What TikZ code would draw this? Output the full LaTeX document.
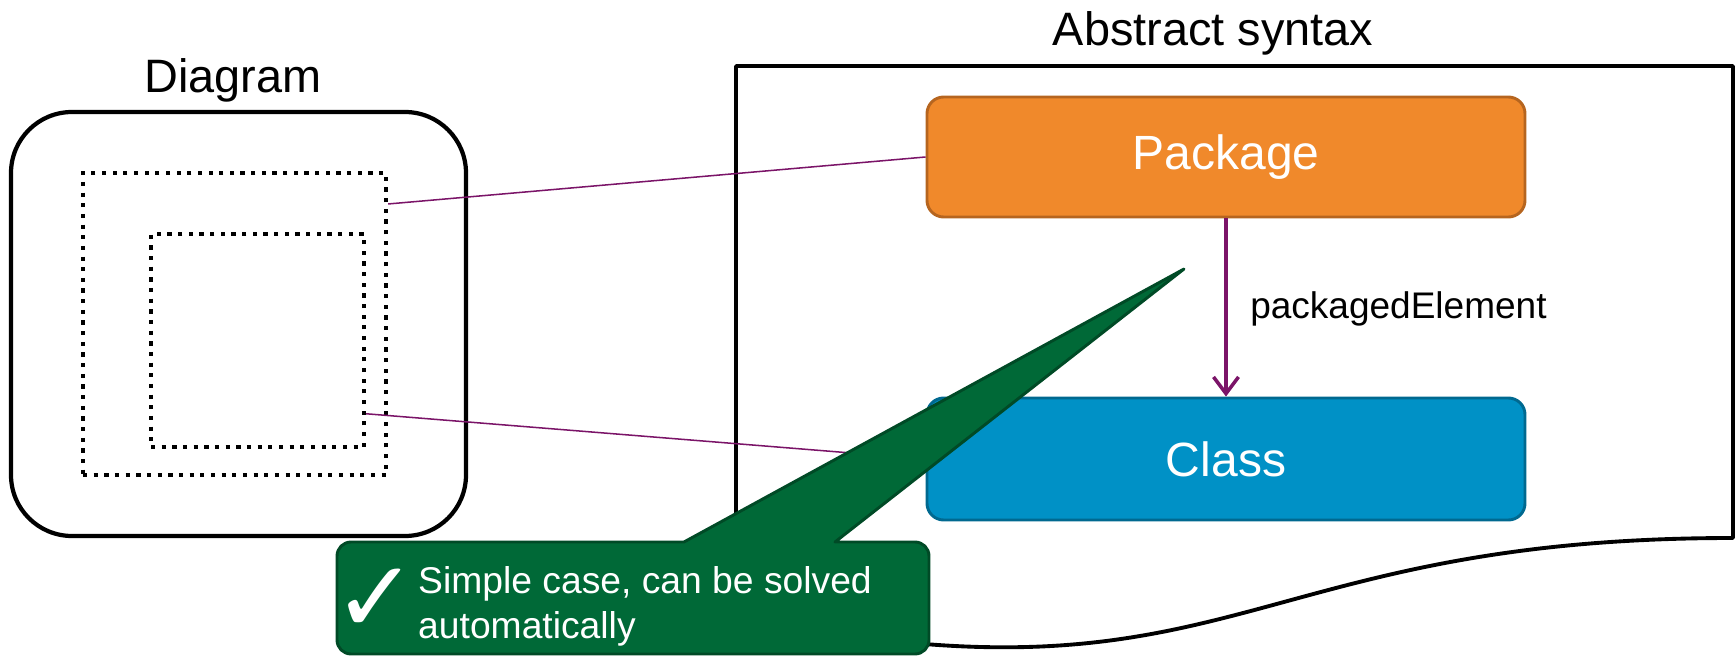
\documentclass[tikz,border=0pt]{standalone}
\usepackage{fontspec}
\setmainfont{Liberation Sans}
\newfontfamily\symfont{DejaVu Sans}
\usetikzlibrary{fit,arrows.meta}

\definecolor{pkgfill}{HTML}{F0892B}
\definecolor{pkgline}{HTML}{B6651F}
\definecolor{clsfill}{HTML}{0091C6}
\definecolor{clsline}{HTML}{006990}
\definecolor{notefill}{HTML}{006937}
\definecolor{noteline}{HTML}{004A26}
\definecolor{linkcol}{HTML}{7B1468}

\begin{document}
\begin{tikzpicture}[x=0.03cm, y=-0.03cm,
  title/.style={font=\fontsize{40}{48}\selectfont, inner sep=0},
  diagbox/.style={draw, line width=3.6pt, rounded corners=1.83cm, inner sep=0},
  dotbox/.style={draw, line width=3.6pt, dash pattern=on 3.6pt off 5.5pt, inner sep=0},
  umlbox/.style={line width=2.5pt, rounded corners=0.5cm, inner sep=0,
                 minimum width=17.94cm,
                 text=white, font=\fontsize{41}{49}\selectfont},
  pkgbox/.style={umlbox, draw=pkgline, fill=pkgfill, minimum height=3.6cm},
  clsbox/.style={umlbox, draw=clsline, fill=clsfill, minimum height=3.66cm},
  frameline/.style={draw, line width=3.3pt, line join=round},
  link/.style={draw=linkcol, line width=1.3pt},
  assoc/.style={draw=linkcol, line width=3pt,
                -{Straight Barb[length=0.5cm, width=0.75cm, line width=3pt]}},
  rolelabel/.style={font=\fontsize{31.6}{38}\selectfont, inner sep=0, anchor=west},
  callout/.style={fill=notefill, draw=noteline, line width=2.5pt, line join=round},
  notetext/.style={text=white, font=\fontsize{31.8}{38.4}\selectfont, align=left,
                   inner sep=0, anchor=west},
]
\useasboundingbox (0,0) rectangle (1735,657);

% concrete syntax side
\node[title] (diagtitle) at (233,80) {Diagram};
\node[diagbox, fit={(11,112) (466,536)}] (diagram) {};
\node[dotbox, fit={(83,173) (386,475)}] (outerdot) {};
\node[dotbox, fit={(151,234) (364,447)}] (innerdot) {};

% abstract syntax side: document shape with a wavy bottom edge
\node[title] (abstitle) at (1213,33) {Abstract syntax};
\draw[frameline] (736,66) -- (1733,66) -- (1733,538)
  .. controls (1234.5,538) and (1234.5,718) .. (736,616) -- cycle;

% model elements
\node[pkgbox] (package) at (1226,157) {Package};
\node[clsbox] (class) at (1226,459) {Class};

% links from the diagram elements to the model elements
\draw[link] (outerdot.38.6) -- (package.west);
\draw[link] (innerdot.-34.6) -- (class.west);

\draw[assoc] (package.south) -- (class.north);
\node[rolelabel] (role) at (1250,309) {packagedElement};

% callout
\draw[callout] (337,600) [rounded corners=0.42cm] -- (337,542)
  [sharp corners] -- (684,542) -- (1184,269) -- (835,542)
  [rounded corners=0.42cm] -- (929,542) -- (929,654) -- (337,654) -- cycle;
\node[text=white, inner sep=0, font=\symfont\fontsize{86}{86}\selectfont] (tick) at (376,601) {✓};
\node[notetext] (note) at (418,606) {Simple case, can be solved\\automatically};
\end{tikzpicture}
\end{document}
